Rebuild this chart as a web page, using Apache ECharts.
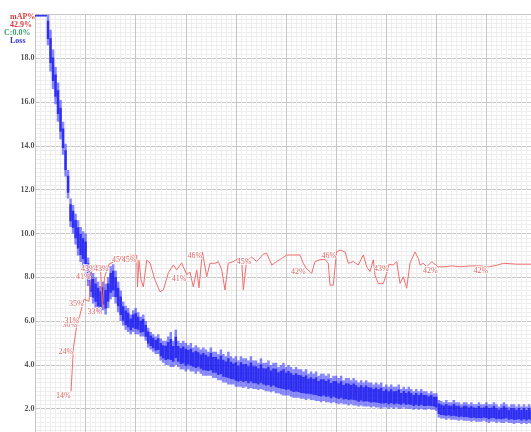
<!DOCTYPE html>
<html><head><meta charset="utf-8">
<script src="https://cdn.jsdelivr.net/npm/echarts@6/dist/echarts.min.js"></script>
<style>html,body{margin:0;padding:0;background:#fff}#c{width:531px;height:432px}</style>
</head><body><div id="c"></div>
<script>
// Loss: sampled every lossStep (x axis = iteration / (max_batches/10)), low/high envelope of the noisy dots
const lossStep = 0.05;
const lossLo = [19.9,19.9,19.9,19.9,19.9,18.6,17.4,16.6,15.9,15.1,
14.3,13.6,12.6,11.6,10.3,10.0,9.5,9.0,8.7,8.5,
8.2,7.6,7.1,6.8,6.6,6.4,6.4,6.5,6.3,6.6,
7.0,7.1,6.8,6.4,6.0,5.8,5.6,5.5,5.4,5.5,
5.4,5.4,5.3,5.3,5.1,4.8,4.7,4.6,4.5,4.5,
4.2,4.1,4.0,4.0,3.9,3.9,4.0,3.9,3.8,3.8,
3.7,3.8,3.7,3.7,3.6,3.7,3.6,3.5,3.5,3.5,
3.5,3.4,3.4,3.3,3.3,3.2,3.2,3.1,3.1,3.1,
3.0,3.0,3.0,2.95,3.0,2.9,2.95,2.9,2.9,2.85,
2.9,2.85,2.8,2.8,2.75,2.8,2.7,2.7,2.65,2.6,
2.6,2.6,2.55,2.5,2.5,2.5,2.45,2.45,2.4,2.45,
2.4,2.4,2.35,2.35,2.3,2.35,2.3,2.3,2.25,2.3,
2.25,2.2,2.25,2.2,2.2,2.15,2.2,2.15,2.15,2.1,
2.15,2.1,2.1,2.1,2.05,2.1,2.05,2.05,2.0,2.05,
2.05,2.0,2.05,2.0,2.05,2.0,2.0,2.05,2.0,2.0,
2.0,1.95,2.0,1.95,2.0,1.95,1.95,2.0,1.95,1.95,
1.9,1.6,1.55,1.55,1.5,1.55,1.5,1.5,1.5,1.45,
1.5,1.45,1.45,1.45,1.4,1.45,1.4,1.4,1.4,1.45,
1.4,1.35,1.4,1.4,1.35,1.4,1.35,1.35,1.4,1.35,
1.35,1.3,1.35,1.35,1.3,1.35,1.3,1.35,1.3,1.3];
const lossHi = [20,20,20,20,20,20,19.3,18.4,17.6,16.9,
16.1,15.1,14.1,12.9,11.6,11.3,10.9,10.6,10.3,10.1,
10.0,8.9,8.3,8.2,8.0,7.8,7.6,7.8,7.7,8.0,
8.5,8.6,8.3,7.8,7.4,6.9,6.7,6.6,6.3,6.5,
6.6,6.4,6.2,6.3,6.0,5.7,5.5,5.4,5.3,5.4,
5.2,5.1,5.1,5.3,5.5,5.1,5.6,5.1,5.0,5.1,
5.0,4.9,5.0,4.8,4.9,4.8,4.7,4.8,4.7,4.6,
4.8,4.6,4.6,4.5,4.7,4.5,4.4,4.6,4.4,4.3,
4.4,4.2,4.4,4.3,4.3,4.2,4.4,4.2,4.2,4.1,
4.3,4.1,4.1,4.2,4.0,4.1,4.1,3.9,4.0,4.1,
3.9,4.0,3.9,3.8,3.9,3.8,3.8,3.7,3.8,3.6,
3.7,3.6,3.7,3.5,3.6,3.6,3.5,3.6,3.4,3.5,
3.5,3.4,3.5,3.3,3.4,3.4,3.3,3.4,3.3,3.2,
3.3,3.2,3.3,3.2,3.2,3.1,3.2,3.1,3.2,3.0,
3.1,3.0,3.1,3.0,3.0,3.1,2.9,3.0,2.9,3.0,
2.9,2.8,2.9,2.8,2.9,2.8,2.8,2.7,2.8,2.7,
2.7,2.4,2.35,2.3,2.4,2.3,2.3,2.4,2.3,2.3,
2.2,2.3,2.3,2.2,2.3,2.2,2.2,2.3,2.2,2.2,
2.3,2.2,2.2,2.3,2.2,2.1,2.2,2.3,2.2,2.1,
2.2,2.2,2.1,2.2,2.1,2.2,2.1,2.2,2.1,2.2];

// mAP (%) at evaluation points
const mapX = [0.709,0.758,0.838,0.878,0.968,1.068,1.108,1.208,1.297,1.337,
1.377,1.467,1.647,1.826,2.020,2.036,2.066,2.106,2.152,2.220,
2.285,2.385,2.485,2.551,2.651,2.750,2.818,2.918,3.018,3.084,
3.150,3.218,3.263,3.333,3.417,3.483,3.583,3.649,3.717,3.782,
3.848,3.948,4.048,4.116,4.148,4.216,4.315,4.415,4.547,4.615,
4.715,4.814,4.914,5.014,5.279,5.345,5.399,5.513,5.579,5.679,
5.778,5.844,5.878,5.944,6.008,6.078,6.178,6.244,6.343,6.443,
6.543,6.611,6.677,6.743,6.776,6.842,6.942,7.010,7.056,7.142,
7.210,7.275,7.341,7.409,7.475,7.575,7.641,7.675,7.741,7.808,
7.908,8.034,8.174,8.313,8.473,8.673,8.872,9.042,9.192,9.337,
9.605,9.890,10.0];
const mapVal = [14,24,30,31,35,34.5,41,43,42,33,
40,43,44,45,45,37.8,43.9,39.4,37.8,43.9,
43.3,39.4,36.7,37.1,41.0,42.8,41.7,43.3,40.6,41.2,
37.8,41.7,37.6,45.8,40.1,43.2,43.2,43.6,41.7,37.1,
43.2,43.6,44.3,44.0,37.1,44.0,44.6,43.6,45.3,45.5,
42.8,43.6,44.3,45.1,45.1,43.2,42.1,40.9,43.6,44.0,
44.1,43.2,38.2,38.2,45.8,46.2,45.8,43.2,43.6,42.8,
45.1,42.4,41.3,44.0,40.5,38.6,38.6,40.9,43.0,42.8,
43.6,38.6,40.1,37.5,43.2,45.8,44.3,42.8,43.2,42.4,
43.6,42.4,42.4,42.6,42.4,42.6,42.6,42.4,42.7,43.2,
43.0,43.0,42.9];
const mapLabelIdx = [0,1,2,3,4,6,7,9,11,13,14,28,33,46,56,64,78,91,97];

// Axis ticks
const yTicks = [2,4,6,8,10,12,14,16,18];
const legendLines = ['mAP%','42.9%','C:0.0%','Loss'];

const lossData = lossLo.map((lo,i)=>[i*lossStep, lo, lossHi[i]]);
const mapData = mapX.map((x,i)=>[x, mapVal[i]]);
const mapLabelData = mapLabelIdx.map(i=>({value:[mapX[i], mapVal[i]], text: Math.round(mapVal[i])+'%'}));

const chart = echarts.init(document.getElementById('c'), null, {renderer:'canvas'});
const serif = '"Liberation Serif", "DejaVu Serif", serif';
chart.setOption({
  animation:false,
  backgroundColor:'#ffffff',
  grid:{left:35.5, width:501, top:14.5, height:438, containLabel:false, outerBoundsMode:'none'},
  xAxis:{type:'value', min:0, max:10, interval:1,
    axisLine:{show:false}, axisTick:{show:false}, axisLabel:{show:false},
    splitLine:{show:true, lineStyle:{color:'#c6c6c6', width:1}},
    minorTick:{show:false, splitNumber:10},
    minorSplitLine:{show:true, lineStyle:{color:'#ededed', width:1}}},
  yAxis:[{type:'value', min:0, max:20, interval:2,
    axisLine:{show:false}, axisTick:{show:false},
    axisLabel:{margin:1, fontFamily:serif, fontSize:8, fontWeight:'bold', color:'#555',
      formatter:v=> yTicks.indexOf(v)>=0 ? v.toFixed(1) : ''},
    splitLine:{show:true, lineStyle:{color:'#c6c6c6', width:1}},
    minorTick:{show:false, splitNumber:10},
    minorSplitLine:{show:true, lineStyle:{color:'#ededed', width:1}}},
   {type:'value', min:0, max:100, show:false, splitLine:{show:false}}],
  series:[
    {type:'custom', name:'Loss', clip:true, data:lossData,
     renderItem:(params, api)=>{
       const x = api.value(0), lo = api.value(1), hi = api.value(2);
       const p1 = api.coord([x, hi]); const p2 = api.coord([x, lo]);
       const w = api.size([lossStep, 0])[0];
       const h = Math.max(p2[1]-p1[1], 1.5);
       return {type:'group', children:[
         {type:'rect', shape:{x:p1[0]-w/2, y:p1[1], width:w, height:h},
          style:{fill:'rgba(20,20,255,0.5)'}},
         {type:'rect', shape:{x:p1[0]-w/2, y:p1[1]+h*0.2, width:w, height:h*0.6},
          style:{fill:'rgba(0,0,235,0.65)'}}
       ]};
     }},
    {type:'line', name:'mAP', yAxisIndex:1, data:mapData, symbol:'none', showSymbol:false,
     lineStyle:{color:'#f07070', width:1}, z:3},
    {type:'scatter', yAxisIndex:1, data:mapLabelData, symbolSize:1, itemStyle:{color:'rgba(0,0,0,0)'}, z:4,
     label:{show:true, position:'inside', offset:[-7.7,4.3], formatter:p=>p.data.text,
       fontFamily:serif, fontSize:8, color:'#d23a3a', textBorderColor:'#ffffff', textBorderWidth:2}}
  ],
  graphic:[
    {type:'text', left:10, top:13, style:{text:legendLines[0], fill:'#dd3b3b', font:'bold 8px '+serif}},
    {type:'text', left:10, top:21, style:{text:legendLines[1], fill:'#dd3b3b', font:'bold 8px '+serif}},
    {type:'text', left:4, top:29, style:{text:legendLines[2], fill:'#3aa36a', font:'bold 8px '+serif}},
    {type:'text', left:10, top:37, style:{text:legendLines[3], fill:'#3636cc', font:'bold 8px '+serif}}
  ]
});
</script></body></html>
